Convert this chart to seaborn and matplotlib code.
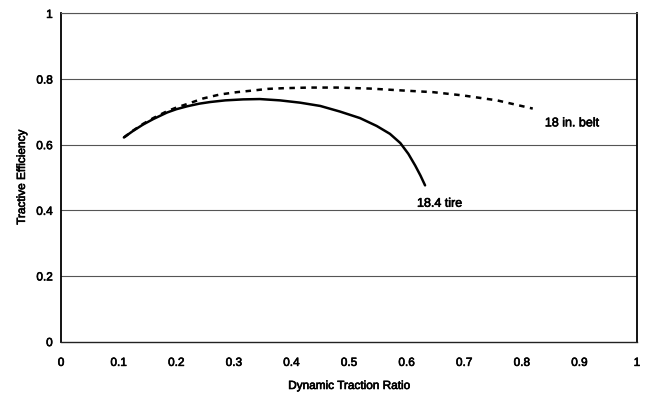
import matplotlib
matplotlib.use("Agg")
import matplotlib.pyplot as plt
import matplotlib.patheffects as pe
import seaborn as sns
import pandas as pd

# 18.4 tire: tractive efficiency vs dynamic traction ratio
tire_dtr = [0.109, 0.125, 0.142, 0.160, 0.184, 0.200, 0.219, 0.240, 0.259,
            0.285, 0.316, 0.345, 0.380, 0.415, 0.450, 0.484, 0.519, 0.548,
            0.571, 0.589, 0.603, 0.615, 0.624, 0.632]
tire_te = [0.622, 0.642, 0.661, 0.678, 0.698, 0.708, 0.717, 0.725, 0.730,
           0.735, 0.738, 0.739, 0.735, 0.728, 0.718, 0.701, 0.681, 0.657,
           0.633, 0.605, 0.572, 0.536, 0.506, 0.476]

# 18 in. belt
belt_dtr = [0.109, 0.125, 0.142, 0.160, 0.184, 0.200, 0.219, 0.247, 0.276,
            0.305, 0.333, 0.359, 0.385, 0.43, 0.479, 0.536, 0.594, 0.646,
            0.698, 0.757, 0.819]
belt_te = [0.622, 0.643, 0.663, 0.681, 0.702, 0.713, 0.724, 0.741, 0.753,
           0.760, 0.765, 0.770, 0.772, 0.774, 0.774, 0.771, 0.765, 0.760,
           0.750, 0.735, 0.710]

x_ticks = [0, 0.1, 0.2, 0.3, 0.4, 0.5, 0.6, 0.7, 0.8, 0.9, 1]
x_tick_labels = ["0", "0.1", "0.2", "0.3", "0.4", "0.5", "0.6", "0.7", "0.8", "0.9", "1"]
y_ticks = [0, 0.2, 0.4, 0.6, 0.8, 1]
y_tick_labels = ["0", "0.2", "0.4", "0.6", "0.8", "1"]

sns.set_theme(style="white")
plt.rcParams["font.family"] = ["Liberation Sans", "DejaVu Sans"]

tire = pd.DataFrame({"dtr": tire_dtr, "te": tire_te})
belt = pd.DataFrame({"dtr": belt_dtr, "te": belt_te})

# slightly heavier strokes for all text
heavy = [pe.withStroke(linewidth=0.45, foreground="black")]

fig = plt.figure(figsize=(6.5, 3.94), dpi=100)
ax = fig.add_axes([0.094, 0.133, 0.886, 0.833])

for y in y_ticks[1:]:
    ax.axhline(y, color="#555555", lw=0.8, zorder=0)

sns.lineplot(data=belt, x="dtr", y="te", ax=ax, color="black", lw=1.8,
             linestyle=(0, (2.2, 2.2)), sort=False, estimator=None)
sns.lineplot(data=tire, x="dtr", y="te", ax=ax, color="black", lw=1.8,
             sort=False, estimator=None)

ax.text(0.84, 0.665, "18 in. belt", fontsize=9, ha="left", va="center",
        color="black", path_effects=heavy)
ax.text(0.618, 0.42, "18.4 tire", fontsize=9, ha="left", va="center",
        color="black", path_effects=heavy)

ax.set_xlim(0, 1)
ax.set_ylim(0, 1)
ax.set_xticks(x_ticks)
ax.set_xticklabels(x_tick_labels)
ax.set_yticks(y_ticks)
ax.set_yticklabels(y_tick_labels)
ax.tick_params(axis="both", which="major", direction="out", length=3, width=1,
               color="black", labelsize=8.5, labelcolor="black", pad=3)
ax.tick_params(axis="x", pad=8)
for lbl in ax.get_xticklabels() + ax.get_yticklabels():
    lbl.set_path_effects(heavy)
ax.set_xlabel("Dynamic Traction Ratio", fontsize=8.5, color="black", labelpad=8,
              path_effects=heavy)
ax.set_ylabel("Tractive Efficiency", fontsize=8.5, color="black", labelpad=6,
              path_effects=heavy)

for side in ["left", "right"]:
    ax.spines[side].set_visible(True)
    ax.spines[side].set_color("black")
    ax.spines[side].set_linewidth(1.3)
ax.spines["bottom"].set_visible(True)
ax.spines["bottom"].set_color("#222222")
ax.spines["bottom"].set_linewidth(1.0)
ax.spines["top"].set_visible(True)
ax.spines["top"].set_color("#555555")
ax.spines["top"].set_linewidth(0.8)

fig.savefig("out.png", dpi=100, facecolor="white")
